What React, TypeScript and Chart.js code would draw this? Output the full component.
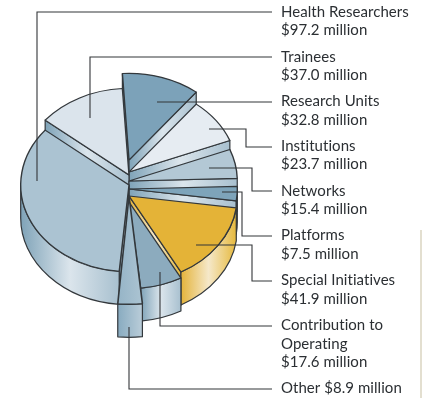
import { useEffect, useRef } from "react";
import { Chart, registerables } from "chart.js";

Chart.register(...registerables);

// Funding by program, listed clockwise from the top of the pie ($ millions).
const categories = [
  "Research Units",
  "Institutions",
  "Networks",
  "Platforms",
  "Special Initiatives",
  "Contribution to Operating",
  "Other",
  "Health Researchers",
  "Trainees",
];
const amounts = [32.8, 23.7, 15.4, 7.5, 41.9, 17.6, 8.9, 97.2, 37.0];

// Top-face colour of each slice; the narrow "Other" wedge gets a horizontal blend.
const faceColors = [
  "#7ca2b9",
  "#e6ecf2",
  "#b3c8d5",
  "#7ea4ba",
  "#e4b337",
  "#8cabbe",
  null,
  "#abc3d2",
  "#dbe4ec",
];

// Vertical shift of each slice's top face from the pie centre, and its foreshortening.
const faceShift = [-26, -14, -5, 3, 10, 16, 10, -1, -11];
const faceSquash = [0.8, 0.8, 0.8, 0.8, 0.8, 0.8, 1, 0.8, 0.8];
const faceWiden = [1, 1, 1, 1, 1, 1, 1.15, 1, 1];
const wallDepth = 33;

// Back-to-front order the slices are painted in.
const paintOrder = [0, 1, 8, 2, 3, 7, 4, 5, 6];

const blueRamp = ["#7fa3b8", "#dbe5ec", "#a8c0cf"];
const goldRamp = ["#e4b33a", "#f5e8c9", "#e6b93d"];
const otherRamp = ["#88abc0", "#bacdd9"];
const otherFaceRamp = ["#94b3c6", "#adc5d3"];

// Callouts: text lines, baselines and the polyline running to each slice.
const callouts = [
  { lines: ["Health Researchers", "$97.2 million"], base: [16.5, 35], path: [[37, 181], [37, 12], [272, 12]] },
  { lines: ["Trainees", "$37.0 million"], base: [61.5, 80], path: [[90, 118], [90, 57], [272, 57]] },
  { lines: ["Research Units", "$32.8 million"], base: [106, 125], path: [[157, 102], [272, 102]] },
  { lines: ["Institutions", "$23.7 million"], base: [150.5, 169], path: [[209, 129], [246, 129], [246, 147], [272, 147]] },
  { lines: ["Networks", "$15.4 million"], base: [195.5, 214], path: [[209, 168], [252, 168], [252, 191], [272, 191]] },
  { lines: ["Platforms", "$7.5 million"], base: [240, 259], path: [[222, 192], [242, 192], [242, 236], [272, 236]] },
  { lines: ["Special Initiatives", "$41.9 million"], base: [285, 304], path: [[196, 245], [252, 245], [252, 281], [272, 281]] },
  { lines: ["Contribution to", "Operating", "$17.6 million"], base: [330, 348.5, 367], path: [[160, 272], [160, 326], [272, 326]] },
  { lines: ["Other $8.9 million"], base: [393], path: [[129, 327], [129, 389], [272, 389]] },
];

const EDGE = "#33383c";

function rampGradient(ctx: CanvasRenderingContext2D, x0: number, x1: number, ramp: string[]) {
  const g = ctx.createLinearGradient(x0, 0, x1, 0);
  ramp.forEach((c, i) => g.addColorStop(i / (ramp.length - 1), c));
  return g;
}

// Extrudes the pie: radial and rim walls under each face, then the face itself.
const extrudedPie = {
  id: "extrudedPie",
  beforeDatasetDraw(chart: any) {
    const ctx: CanvasRenderingContext2D = chart.ctx;
    const arcs = chart.getDatasetMeta(0).data;
    for (const i of paintOrder) {
      const arc = arcs[i];
      const { x, y, startAngle: a0, endAngle: a1, outerRadius: r } = arc.getProps([
        "x",
        "y",
        "startAngle",
        "endAngle",
        "outerRadius",
      ]);
      const cy = y + faceShift[i];
      const rx = r * faceWiden[i];
      const ry = r * faceSquash[i];
      const ramp = i === 4 ? goldRamp : i === 6 ? otherRamp : blueRamp;
      ctx.save();
      ctx.strokeStyle = EDGE;
      ctx.lineWidth = 1.2;
      ctx.lineJoin = "round";
      // Radial walls, only where the cut faces the viewer.
      const edges: number[] = [];
      if (Math.cos(a0) < 0) edges.push(a0);
      if (Math.cos(a1) > 0) edges.push(a1);
      for (const a of edges) {
        const px = x + rx * Math.cos(a);
        const py = cy + ry * Math.sin(a);
        ctx.beginPath();
        ctx.moveTo(x, cy);
        ctx.lineTo(px, py);
        ctx.lineTo(px, py + wallDepth);
        ctx.lineTo(x, cy + wallDepth);
        ctx.closePath();
        ctx.fillStyle = rampGradient(ctx, Math.min(x, px), Math.max(x, px), ramp);
        ctx.fill();
        ctx.stroke();
      }
      // Rim wall along the front half of the ellipse.
      const lo = Math.max(a0, 0);
      const hi = Math.min(a1, Math.PI);
      if (hi > lo) {
        ctx.beginPath();
        ctx.ellipse(x, cy, rx, ry, 0, lo, hi);
        ctx.ellipse(x, cy + wallDepth, rx, ry, 0, hi, lo, true);
        ctx.closePath();
        const xa = x + rx * Math.cos(lo);
        const xb = x + rx * Math.cos(hi);
        ctx.fillStyle = rampGradient(ctx, Math.min(xa, xb), Math.max(xa, xb), ramp);
        ctx.fill();
        ctx.stroke();
      }
      ctx.restore();
      // Top face, drawn by the arc element itself.
      ctx.save();
      ctx.translate(x, cy);
      ctx.scale(faceWiden[i], faceSquash[i]);
      ctx.translate(-x, -y);
      arc.draw(ctx);
      ctx.restore();
    }
    return false;
  },
  afterDatasetsDraw(chart: any) {
    const ctx: CanvasRenderingContext2D = chart.ctx;
    ctx.save();
    ctx.strokeStyle = "#333639";
    ctx.lineWidth = 1.1;
    for (const c of callouts) {
      ctx.beginPath();
      c.path.forEach(([px, py], k) => (k ? ctx.lineTo(px, py) : ctx.moveTo(px, py)));
      ctx.stroke();
    }
    ctx.fillStyle = "#2b2f33";
    ctx.font = "15px Lato, sans-serif";
    // A hair of tracking also keeps the "ti" pairs from joining into ligatures.
    (ctx as any).letterSpacing = "0.05px";
    ctx.textBaseline = "alphabetic";
    for (const c of callouts) {
      c.lines.forEach((t, k) => ctx.fillText(t, 281, c.base[k]));
    }
    // Pale rule along the right margin.
    ctx.strokeStyle = "#e3dfd0";
    ctx.lineWidth = 2;
    ctx.beginPath();
    ctx.moveTo(421, 230);
    ctx.lineTo(421, 398);
    ctx.stroke();
    ctx.restore();
  },
};

export default function App() {
  const ref = useRef<HTMLCanvasElement>(null);
  useEffect(() => {
    const chart = new Chart(ref.current!, {
      type: "pie",
      data: {
        labels: categories,
        datasets: [
          {
            data: amounts,
            backgroundColor: (c: any) =>
              faceColors[c.dataIndex] ??
              rampGradient(c.chart.ctx, 118, 142, otherFaceRamp),
            borderColor: EDGE,
            borderWidth: 1.4,
          },
        ],
      },
      options: {
        responsive: false,
        animation: false,
        rotation: -3.5,
        layout: { padding: { left: 20, right: 184, top: 77, bottom: 103 } },
        plugins: { legend: { display: false }, tooltip: { enabled: false } },
      },
      plugins: [extrudedPie],
    });
    return () => chart.destroy();
  }, []);
  return (
    <canvas
      ref={ref}
      width={422}
      height={398}
      style={{ position: "absolute", left: 0, top: 0, width: 422, height: 398 }}
    />
  );
}
